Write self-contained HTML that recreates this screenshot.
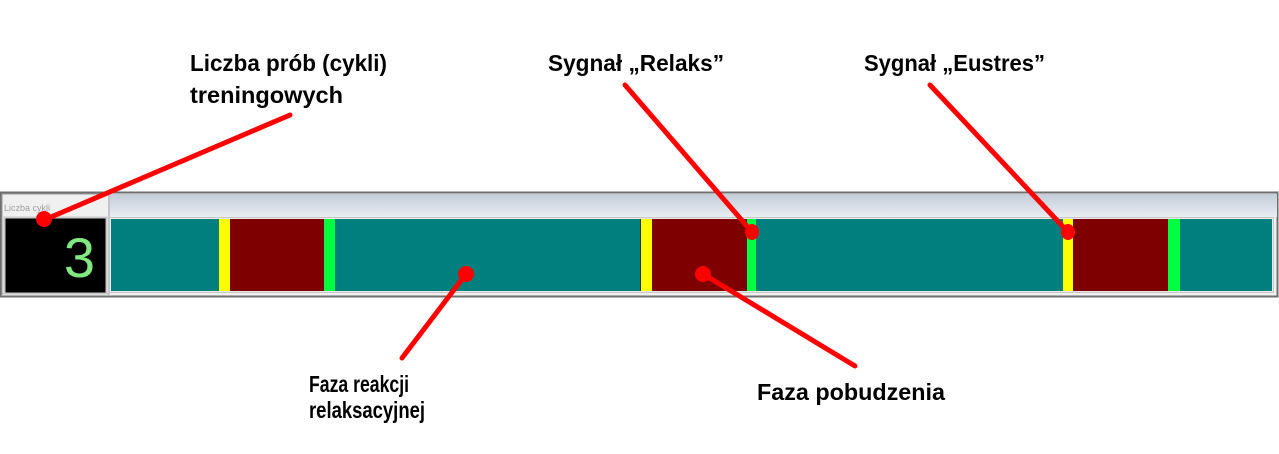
<!DOCTYPE html>
<html><head><meta charset="utf-8"><style>
html,body{margin:0;padding:0;background:#fff;width:1279px;height:454px;overflow:hidden}
</style></head><body>
<svg width="1279" height="454" xmlns="http://www.w3.org/2000/svg" style="display:block">
<defs><linearGradient id="g" x1="0" y1="0" x2="0" y2="1"><stop offset="0" stop-color="#c3ccd9"/><stop offset="1" stop-color="#e9edf3"/></linearGradient></defs>
<rect x="0" y="0" width="1279" height="454" fill="#fff"/>
<rect x="0.5" y="192.5" width="1277" height="104" fill="#f0f0f0" stroke="#6e6e6e" stroke-width="2"/>
<rect x="2" y="194" width="107" height="100" fill="#f0f0f0" stroke="#9a9a9a" stroke-width="1"/>
<text x="4" y="211" font-family="Liberation Sans, sans-serif" font-size="9" fill="#a0a0a0">Liczba cykli</text>
<rect x="4.5" y="217.5" width="102" height="76" fill="#000" stroke="#c8c8c8" stroke-width="2"/>
<text x="95" y="277" text-anchor="end" font-family="Liberation Sans, sans-serif" font-size="56" fill="#80ea80">3</text>
<rect x="110" y="194" width="1167" height="23" fill="url(#g)"/>
<rect x="109.5" y="217.5" width="1164" height="75" fill="#e8e8e8" stroke="#c8c8c8"/>
<rect x="111" y="219" width="1161" height="72" fill="#007f7f"/>
<rect x="219" y="219" width="11" height="72" fill="#ffff00"/>
<rect x="230" y="219" width="94" height="72" fill="#7f0000"/>
<rect x="324" y="219" width="11" height="72" fill="#00ff40"/>
<rect x="640" y="219" width="1" height="72" fill="#333"/>
<rect x="641" y="219" width="11" height="72" fill="#ffff00"/>
<rect x="652" y="219" width="95" height="72" fill="#7f0000"/>
<rect x="747" y="219" width="9" height="72" fill="#00ff40"/>
<rect x="1063" y="219" width="10" height="72" fill="#ffff00"/>
<rect x="1073" y="219" width="95" height="72" fill="#7f0000"/>
<rect x="1168" y="219" width="12" height="72" fill="#00ff40"/>
<g stroke="#ff0000" stroke-width="5" stroke-linecap="round" fill="none">
<line x1="290" y1="115" x2="44" y2="220"/>
<line x1="625" y1="85" x2="752" y2="232"/>
<line x1="930" y1="85" x2="1068" y2="232"/>
<line x1="466" y1="274" x2="402" y2="358"/>
<line x1="703" y1="274" x2="855" y2="366"/>
</g>
<g fill="#ff0000">
<circle cx="44" cy="219" r="8"/>
<ellipse cx="752" cy="232" rx="7" ry="8"/>
<ellipse cx="1068" cy="232" rx="7" ry="8"/>
<circle cx="466" cy="274" r="8"/>
<circle cx="703" cy="274" r="8"/>
</g>
<g font-family="Liberation Sans, sans-serif" font-weight="bold" font-size="23" fill="#000">
<text x="190" y="71" textLength="197" lengthAdjust="spacingAndGlyphs">Liczba prób (cykli)</text>
<text x="190" y="103" textLength="153" lengthAdjust="spacingAndGlyphs">treningowych</text>
<text x="548" y="71" textLength="176" lengthAdjust="spacingAndGlyphs">Sygnał „Relaks”</text>
<text x="864" y="71" textLength="181" lengthAdjust="spacingAndGlyphs">Sygnał „Eustres”</text>
<text x="309" y="392" textLength="100" lengthAdjust="spacingAndGlyphs">Faza reakcji</text>
<text x="309" y="418" textLength="116" lengthAdjust="spacingAndGlyphs">relaksacyjnej</text>
<text x="757" y="400" textLength="188" lengthAdjust="spacingAndGlyphs">Faza pobudzenia</text>
</g>
</svg>
</body></html>
